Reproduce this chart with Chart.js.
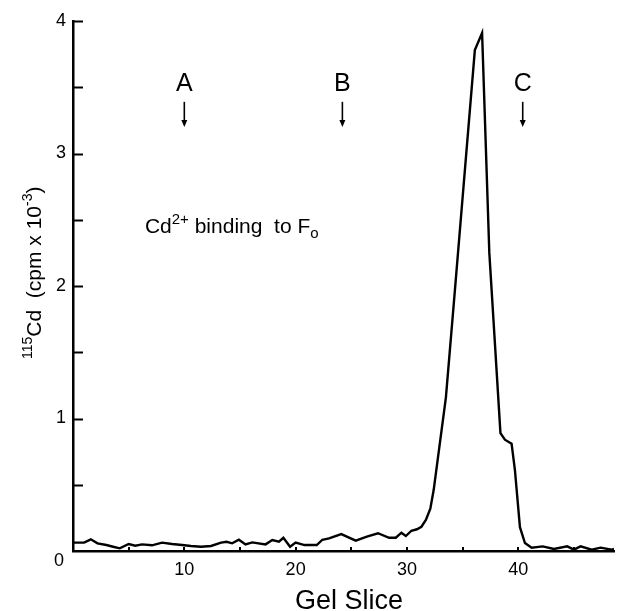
<!DOCTYPE html>
<html><head><meta charset="utf-8">
<script src="https://cdn.jsdelivr.net/npm/chart.js@4/dist/chart.umd.min.js"></script>
<style>html,body{margin:0;padding:0;background:#fff}#wrap{width:622px;height:611px}</style>
</head><body><div id="wrap"><canvas id="c" width="622" height="611"></canvas></div>
<script>
// Gel slice positions and 115Cd counts (cpm x 10^-3)
const sliceX = [0, 1.0, 1.6, 2.2, 3.0, 3.6, 4.2, 5.0, 5.6, 6.2, 7.1, 8.0, 8.9, 9.8, 10.6, 11.5, 12.4, 13.3, 13.8, 14.3, 14.9, 15.5, 16.1, 17.3, 17.9, 18.5, 18.9, 19.5, 20.0, 20.8, 21.9, 22.4, 23.0, 24.1, 25.4, 26.4, 27.4, 28.4, 29.0, 29.5, 29.9, 30.4, 30.9, 31.3, 31.7, 32.1, 32.4, 33.5, 34.25, 36.1, 36.75, 37.4, 38.4, 38.8, 39.4, 39.7, 40.15, 40.6, 41.2, 42.2, 43.2, 44.4, 45.0, 45.6, 46.6, 47.4, 48.4, 48.6];
const cdCpm = [0.063, 0.063, 0.088, 0.058, 0.045, 0.032, 0.02, 0.053, 0.04, 0.05, 0.043, 0.063, 0.053, 0.045, 0.038, 0.032, 0.038, 0.063, 0.07, 0.058, 0.085, 0.05, 0.065, 0.05, 0.083, 0.07, 0.1, 0.032, 0.063, 0.045, 0.045, 0.085, 0.095, 0.128, 0.078, 0.108, 0.134, 0.1, 0.1, 0.138, 0.113, 0.153, 0.164, 0.183, 0.234, 0.32, 0.46, 1.16, 1.91, 3.78, 3.91, 2.25, 0.89, 0.84, 0.81, 0.61, 0.18, 0.06, 0.025, 0.035, 0.015, 0.035, 0.01, 0.035, 0.01, 0.025, 0.01, 0.015];
const xTickLabels = [10, 20, 30, 40];
const yTickLabels = [1, 2, 3, 4];
const markerLabels = ['A', 'B', 'C'];
const markerSlices = [10, 24.2, 40.4];
const xTitle = 'Gel Slice';

const points = sliceX.map((x, i) => ({x: x, y: cdCpm[i]}));
const FONT = '"Liberation Sans", Arial, sans-serif';

const decor = {
  id: 'decor',
  afterDraw(chart) {
    const ctx = chart.ctx;
    const xs = chart.scales.x, ys = chart.scales.y;
    const ca = chart.chartArea;
    ctx.save();
    ctx.strokeStyle = '#000'; ctx.fillStyle = '#000';
    // inside tick marks
    ctx.lineWidth = 2;
    for (let v = 0.5; v <= 4.001; v += 0.5) {
      const py = Math.round(ys.getPixelForValue(v)) + 0.5;
      ctx.beginPath(); ctx.moveTo(ca.left, py); ctx.lineTo(ca.left + 10, py); ctx.stroke();
    }
    for (let v = 5; v <= 45; v += 5) {
      const px = Math.round(xs.getPixelForValue(v));
      ctx.beginPath(); ctx.moveTo(px, ca.bottom); ctx.lineTo(px, ca.bottom - 4); ctx.stroke();
    }
    // corner zero
    ctx.font = '18px ' + FONT;
    ctx.textAlign = 'center'; ctx.textBaseline = 'middle';
    ctx.fillText('0', ca.left - 14, ca.bottom + 10);
    // x axis title
    ctx.font = '27px ' + FONT;
    ctx.textAlign = 'center'; ctx.textBaseline = 'alphabetic';
    ctx.fillText(xTitle, xs.getPixelForValue(24.8), 609);
    // A B C markers with arrows
    ctx.font = '25px ' + FONT;
    markerLabels.forEach((lab, i) => {
      const px = xs.getPixelForValue(markerSlices[i]);
      const ty = ys.getPixelForValue(3.52);
      ctx.textAlign = 'center'; ctx.textBaseline = 'middle';
      ctx.fillText(lab, px, ty);
      const y0 = ys.getPixelForValue(3.39), y1 = ys.getPixelForValue(3.2);
      ctx.lineWidth = 1.6;
      ctx.beginPath(); ctx.moveTo(px, y0); ctx.lineTo(px, y1 - 5); ctx.stroke();
      ctx.beginPath(); ctx.moveTo(px - 3, y1 - 7); ctx.lineTo(px + 3, y1 - 7); ctx.lineTo(px, y1); ctx.closePath(); ctx.fill();
    });
    // annotation Cd2+ binding to Fo
    let ax = xs.getPixelForValue(6.46), ay = ys.getPixelForValue(2.4);
    ctx.textAlign = 'left'; ctx.textBaseline = 'alphabetic';
    const segs = [['Cd', 21, 0], ['2+', 15, -9], [' binding  to F', 21, 0], ['o', 15, 5]];
    segs.forEach(s => {
      ctx.font = s[1] + 'px ' + FONT;
      ctx.fillText(s[0], ax, ay + s[2]);
      ax += ctx.measureText(s[0]).width;
    });
    // y axis title, rotated
    const ysegs = [['115', 14, -9], ['Cd  (cpm x 10', 21, 0], ['-3', 14, -9], [')', 21, 0]];
    let total = 0;
    ysegs.forEach(s => { ctx.font = s[1] + 'px ' + FONT; total += ctx.measureText(s[0]).width; });
    ctx.translate(41, ys.getPixelForValue(2.1));
    ctx.rotate(-Math.PI / 2);
    let tx = -total / 2;
    ysegs.forEach(s => {
      ctx.font = s[1] + 'px ' + FONT;
      ctx.fillText(s[0], tx, s[2]);
      tx += ctx.measureText(s[0]).width;
    });
    ctx.restore();
  }
};

new Chart(document.getElementById('c'), {
  type: 'line',
  data: {
    datasets: [{
      data: points,
      borderColor: '#000',
      borderWidth: 2.4,
      pointRadius: 0,
      tension: 0,
      fill: false
    }]
  },
  options: {
    responsive: false,
    animation: false,
    devicePixelRatio: 1,
    layout: {padding: {top: 21, right: 0, bottom: 0, left: 0}},
    plugins: {legend: {display: false}, tooltip: {enabled: false}},
    scales: {
      x: {
        type: 'linear', min: 0, max: 48.6,
        grid: {display: false, drawTicks: false},
        border: {display: true, color: '#000', width: 2.5},
        ticks: {
          stepSize: 5, autoSkip: false, maxRotation: 0, padding: 8,
          color: '#000', font: {family: FONT, size: 18},
          callback: v => xTickLabels.includes(v) ? String(v) : ''
        },
        afterFit: s => { s.height = 60; }
      },
      y: {
        type: 'linear', min: 0, max: 4,
        grid: {display: false, drawTicks: false},
        border: {display: true, color: '#000', width: 2.5},
        ticks: {
          stepSize: 0.5, autoSkip: false, padding: 7,
          color: '#000', font: {family: FONT, size: 18},
          callback: v => yTickLabels.includes(v) ? String(v) : ''
        },
        afterFit: s => { s.width = 73; }
      }
    }
  },
  plugins: [decor]
});
</script>
</body></html>
